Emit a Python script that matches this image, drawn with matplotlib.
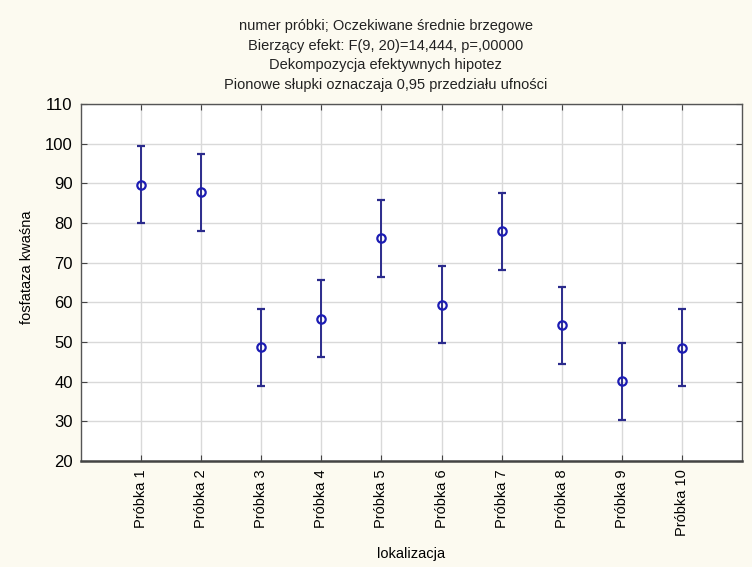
import numpy as np
import matplotlib
matplotlib.use("Agg")
import matplotlib.pyplot as plt

samples = ['Próbka 1', 'Próbka 2', 'Próbka 3', 'Próbka 4', 'Próbka 5',
           'Próbka 6', 'Próbka 7', 'Próbka 8', 'Próbka 9', 'Próbka 10']
means = [89.6, 87.7, 48.7, 55.9, 76.1, 59.4, 77.9, 54.2, 40.1, 48.6]
ci95 = [9.7, 9.7, 9.7, 9.7, 9.7, 9.7, 9.7, 9.7, 9.7, 9.7]

title_lines = ['numer próbki; Oczekiwane średnie brzegowe',
               'Bierzący efekt: F(9, 20)=14,444, p=,00000',
               'Dekompozycja efektywnych hipotez',
               'Pionowe słupki oznaczaja 0,95 przedziału ufności']

plt.rcParams['font.family'] = ['Liberation Sans', 'DejaVu Sans']

bg = '#fcfaf0'
fig = plt.figure(figsize=(7.52, 5.67), dpi=100, facecolor=bg)
ax = fig.add_axes([0.1077, 0.187, 0.879, 0.6296])
ax.set_facecolor('white')

x = np.arange(1, len(samples) + 1)
ax.errorbar(x, means, yerr=ci95, fmt='o', mfc='none', mec='#1c1cb4', mew=1.6,
            ms=6, ecolor='#2b2b8c', elinewidth=1.4, capsize=3, capthick=1.2,
            zorder=3)

ax.set_xlim(0, 11)
ax.set_ylim(20, 110)
ax.set_yticks(np.arange(20, 111, 10))
ax.set_xticks(x)
ax.set_xticklabels(samples, rotation=90, fontsize=10.5)
ax.tick_params(axis='y', labelsize=12, direction='in', right=True, length=4,
               color='#444444', pad=6)
ax.tick_params(axis='x', direction='in', top=True, length=4, color='#444444',
               pad=6)
ax.grid(True, color='#d9d9d9', linewidth=1)
ax.set_axisbelow(True)

for side in ['left', 'right', 'top']:
    ax.spines[side].set_color('#555555')
    ax.spines[side].set_linewidth(1)
ax.spines['bottom'].set_color('#444444')
ax.spines['bottom'].set_linewidth(1.8)

ax.set_xlabel('lokalizacja', fontsize=10.5, labelpad=8)
ax.set_ylabel('fosfataza kwaśna', fontsize=10.5)
ax.yaxis.set_label_coords(-0.071, 0.543)

for i, line in enumerate(title_lines):
    fig.text(0.513, 1 - (26 + i * 19.7) / 567, line, ha='center', va='center',
             fontsize=10.5, color='#222222')

fig.savefig('out.png', dpi=100, facecolor=bg)
